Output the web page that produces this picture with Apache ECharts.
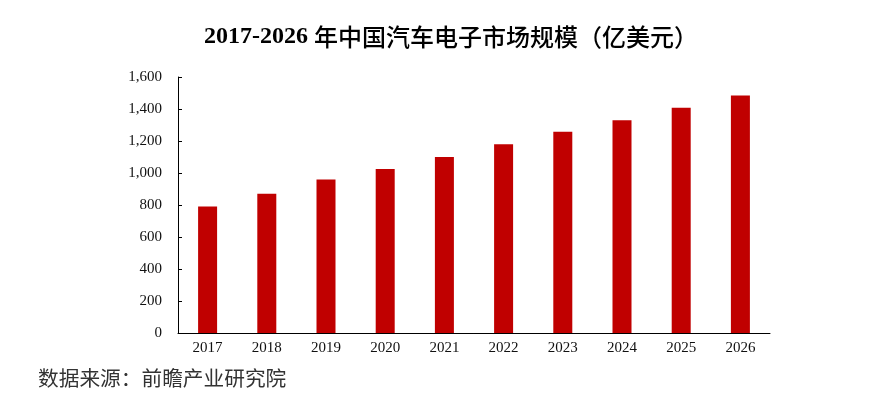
<!DOCTYPE html>
<html><head><meta charset="utf-8">
<script src="https://cdn.jsdelivr.net/npm/echarts@6/dist/echarts.min.js"></script>
<style>html,body{margin:0;padding:0;background:#fff}#c{width:870px;height:396px}</style>
</head><body><div id="c"></div>
<script>
const categories = ['2017','2018','2019','2020','2021','2022','2023','2024','2025','2026'];
const marketSize = [790, 870, 960, 1025, 1100, 1180, 1258, 1330, 1408, 1484];
const titleYears = '2017-2026';
const titleRest = '年中国汽车电子市场规模（亿美元）';
const sourceText = '数据来源：前瞻产业研究院';

const chart = echarts.init(document.getElementById('c'));
chart.setOption({
  animation: false,
  backgroundColor: '#fff',
  title: {
    text: '{d|' + titleYears + ' }{c|' + titleRest + '}',
    left: 446, top: 20, textAlign: 'center',
    textStyle: {
      rich: {
        d: {fontFamily: '"Liberation Serif", serif', fontWeight: 'bold', fontSize: 24, color: '#000'},
        c: {fontFamily: '"Noto Sans CJK SC", sans-serif', fontWeight: 500, fontSize: 24, color: '#000'}
      }
    }
  },
  graphic: [{
    type: 'text', left: 38, top: 368,
    style: {text: sourceText, font: '20.7px "Noto Sans CJK SC", sans-serif', fill: '#333'}
  }],
  grid: {left: 178, right: 100, top: 77, bottom: 63},
  xAxis: {
    type: 'category', data: categories,
    axisLine: {lineStyle: {color: '#000', width: 1}},
    axisTick: {inside: true, length: 4, lineStyle: {color: '#000'}},
    axisLabel: {fontFamily: '"Liberation Serif", serif', fontSize: 15, color: '#111', margin: 8}
  },
  yAxis: {
    type: 'value', min: 0, max: 1600, interval: 200,
    splitLine: {show: false},
    axisLine: {show: true, lineStyle: {color: '#000', width: 1}},
    axisTick: {show: true, inside: true, length: 4, lineStyle: {color: '#000'}},
    axisLabel: {fontFamily: '"Liberation Serif", serif', fontSize: 15, color: '#111', margin: 16,
      formatter: v => v.toLocaleString('en-US')}
  },
  series: [{
    type: 'bar', data: marketSize, barWidth: 19,
    itemStyle: {color: '#C00000'}
  }]
});
</script></body></html>
